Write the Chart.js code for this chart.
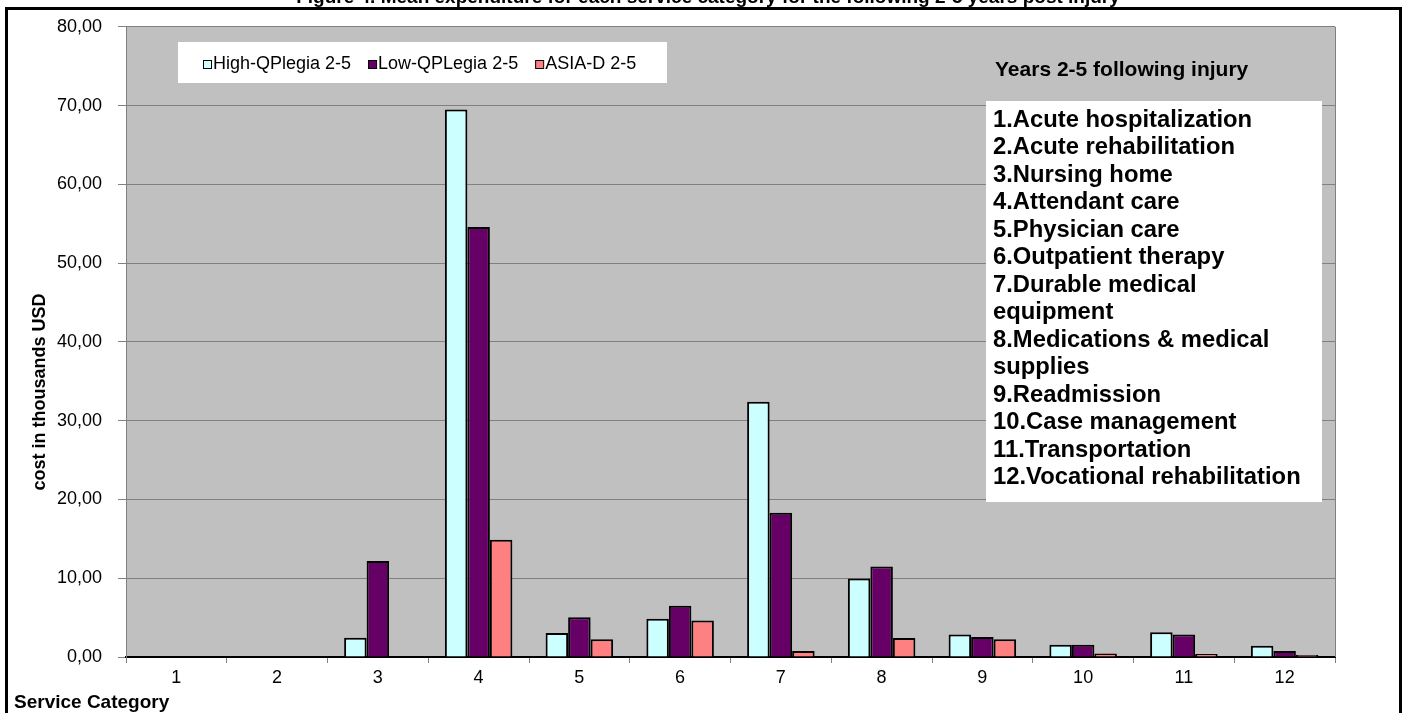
<!DOCTYPE html>
<html>
<head>
<meta charset="utf-8">
<script src="https://cdn.jsdelivr.net/npm/chart.js@4.4.0/dist/chart.umd.min.js"></script>
<style>
  body { margin: 0; background: #fff; }
  #wrap { position: relative; width: 1408px; height: 713px; }
</style>
</head>
<body>
<div id="wrap"><canvas id="myChartCost"></canvas></div>
<script>
const FONT = '"Liberation Sans", Arial, sans-serif'

const categories = ['1', '2', '3', '4', '5', '6', '7', '8', '9', '10', '11', '12']
const highQPlegia = [0, 0, 2.45, 69.5, 3.05, 4.85, 32.4, 9.95, 2.85, 1.55, 3.14, 1.42]
const lowQPlegia = [0, 0, 12.2, 54.6, 5.06, 6.5, 18.3, 11.5, 2.55, 1.55, 2.85, 0.75]
const asiaD = [0, 0, 0, 14.9, 2.26, 4.64, 0.75, 2.42, 2.26, 0.46, 0.38, 0.25]
const yTicks = [0, 10, 20, 30, 40, 50, 60, 70, 80]
const serviceNames = ['Acute hospitalization', 'Acute rehabilitation', 'Nursing home', 'Attendant care',
  'Physician care', 'Outpatient therapy', 'Durable medical equipment', 'Medications & medical supplies',
  'Readmission', 'Case management', 'Transportation', 'Vocational rehabilitation']

const titleText = 'Figure 4. Mean expenditure for each service category for the following 2-5 years post injury'

// wraps a line of text to a max width
const wrapText = (ctx, text, maxW) => {
    const words = text.split(' ')
    const lines = []
    let cur = ''
    words.forEach(w => {
        const test = cur ? cur + ' ' + w : w
        if (ctx.measureText(test).width > maxW && cur) {
            lines.push(cur)
            cur = w
        } else {
            cur = test
        }
    })
    lines.push(cur)
    return lines
}

const decorations = {
    id: 'decorations',
    beforeDraw(chart) {
        const { ctx, chartArea: a } = chart
        ctx.save()
        ctx.fillStyle = '#C0C0C0'
        ctx.fillRect(a.left, a.top, a.right - a.left, a.bottom - a.top)
        ctx.restore()
    },
    beforeDatasetsDraw(chart) {
        const { ctx, chartArea: a } = chart
        ctx.save()
        ctx.strokeStyle = '#808080'
        ctx.lineWidth = 1
        ctx.beginPath()
        ctx.moveTo(a.right + 0.5, a.top)
        ctx.lineTo(a.right + 0.5, a.bottom)
        ctx.stroke()
        ctx.restore()
    },
    afterDraw(chart) {
        const { ctx } = chart
        ctx.save()

        // outer frame + cut title
        ctx.strokeStyle = '#000'
        ctx.lineWidth = 3
        ctx.strokeRect(6.5, 8.5, 1394, 720)
        ctx.fillStyle = '#000'
        ctx.font = 'bold 19px ' + FONT
        ctx.textAlign = 'center'
        ctx.textBaseline = 'alphabetic'
        ctx.fillText(titleText, 708, 3)

        // axis titles
        ctx.font = 'bold 18px ' + FONT
        ctx.textBaseline = 'middle'
        ctx.save()
        ctx.translate(40, 392)
        ctx.rotate(-Math.PI / 2)
        ctx.fillText('cost in thousands USD', 0, 0)
        ctx.restore()
        ctx.font = 'bold 19px ' + FONT
        ctx.textAlign = 'left'
        ctx.fillText('Service Category', 14, 703)

        // legend box
        ctx.fillStyle = '#fff'
        ctx.fillRect(178, 42, 489, 41)
        ctx.font = '18px ' + FONT
        let x = 203
        chart.data.datasets.forEach(ds => {
            ctx.fillStyle = ds.backgroundColor
            ctx.fillRect(x, 60, 8, 8)
            ctx.strokeStyle = '#000'
            ctx.lineWidth = 1
            ctx.strokeRect(x + 0.5, 60.5, 8, 8)
            ctx.fillStyle = '#000'
            ctx.fillText(ds.label, x + 10, 64)
            x += 10 + ctx.measureText(ds.label).width + 17
        })

        // years note
        ctx.font = 'bold 21px ' + FONT
        ctx.fillText('Years 2-5 following injury', 995, 70)

        // service list box
        ctx.fillStyle = '#fff'
        ctx.fillRect(986, 101, 336, 401)
        ctx.fillStyle = '#000'
        ctx.font = 'bold 23.8px ' + FONT
        let y = 120
        serviceNames.forEach((name, i) => {
            wrapText(ctx, (i + 1) + '.' + name, 320).forEach(line => {
                ctx.fillText(line, 993, y)
                y += 27.5
            })
        })
        ctx.restore()
    }
}

var ctx = document.getElementById('myChartCost')
var myChart = new Chart(ctx, {
    type: 'bar',
    data: {
        labels: categories,
        datasets: [
            { label: 'High-QPlegia 2-5', data: highQPlegia, backgroundColor: '#CCFFFF' },
            { label: 'Low-QPLegia 2-5', data: lowQPlegia, backgroundColor: '#660066' },
            { label: 'ASIA-D 2-5', data: asiaD, backgroundColor: '#FF8080' }
        ]
    },
    options: {
        responsive: true,
        maintainAspectRatio: false,
        animation: false,
        layout: { padding: { top: 19, right: 73, left: 0, bottom: 0 } },
        datasets: {
            bar: {
                borderColor: '#000',
                borderWidth: 2,
                categoryPercentage: 0.67,
                barPercentage: 1.0
            }
        },
        plugins: {
            legend: { display: false },
            title: { display: false },
            tooltip: { enabled: false }
        },
        scales: {
            x: {
                grid: { offset: true, drawOnChartArea: false, drawTicks: true, tickLength: 6, color: '#808080' },
                border: { color: '#000', width: 2 },
                ticks: { color: '#000', font: { family: FONT, size: 18 }, padding: 4, maxRotation: 0 },
                afterFit: s => { s.height = 56 }
            },
            y: {
                min: 0,
                max: 80,
                afterBuildTicks: s => { s.ticks = yTicks.map(v => ({ value: v })) },
                grid: { color: '#808080', tickLength: 8 },
                border: { color: '#808080' },
                ticks: {
                    color: '#000',
                    font: { family: FONT, size: 18 },
                    padding: 16,
                    callback: v => v.toFixed(2).replace('.', ',')
                },
                afterFit: s => { s.width = 126 }
            }
        }
    },
    plugins: [decorations]
})
</script>
</body>
</html>
